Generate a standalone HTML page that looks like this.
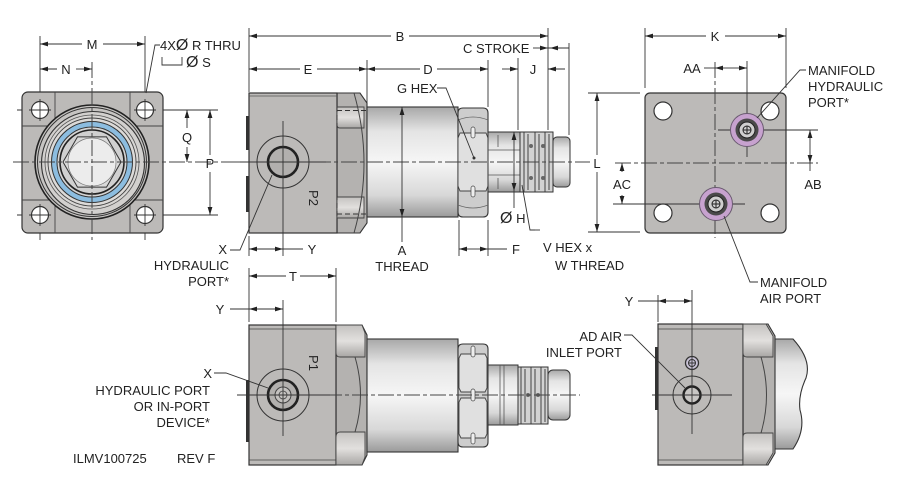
<!DOCTYPE html>
<html><head><meta charset="utf-8"><style>
body{margin:0;background:#fff}
svg{display:block}
text{font-family:"Liberation Sans","DejaVu Sans",sans-serif;font-size:13px;fill:#222}
</style></head><body>
<svg width="900" height="486" viewBox="0 0 900 486" xmlns="http://www.w3.org/2000/svg">
<defs>
<marker id="ar" markerUnits="userSpaceOnUse" markerWidth="8" markerHeight="6" viewBox="0 0 8 6" refX="8" refY="3" orient="auto"><path d="M0,0.6L8,3L0,5.4z" fill="#222"/></marker>
<linearGradient id="bar" x1="0" y1="0" x2="0" y2="1"><stop offset="0" stop-color="#a8a8a8"/><stop offset=".22" stop-color="#e4e4e4"/><stop offset=".5" stop-color="#f6f6f6"/><stop offset=".8" stop-color="#d8d8d8"/><stop offset="1" stop-color="#9a9a9a"/></linearGradient>
<linearGradient id="pk" x1="0" y1="0" x2="0" y2="1"><stop offset="0" stop-color="#c4c2c0"/><stop offset=".5" stop-color="#e2e0de"/><stop offset="1" stop-color="#a8a6a4"/></linearGradient>
</defs>

<!-- ============ TOP-LEFT END VIEW ============ -->
<g stroke="#333" stroke-width="0.9" fill="none">
<line x1="40" y1="36" x2="40" y2="240"/><line x1="145" y1="36" x2="145" y2="240"/>
<line x1="17" y1="110" x2="218" y2="110"/><line x1="17" y1="215" x2="218" y2="215"/>
</g>
<rect x="22" y="92" width="141" height="141" rx="6" fill="#bcbab8" stroke="#333" stroke-width="1.2"/>
<g stroke="#444" stroke-width="0.9">
<line x1="55" y1="92" x2="55" y2="233"/><line x1="130" y1="92" x2="130" y2="233"/>
<line x1="22" y1="126" x2="163" y2="126"/><line x1="22" y1="200" x2="163" y2="200"/>
</g>
<g fill="#fff" stroke="#333" stroke-width="1.2">
<circle cx="40" cy="110" r="8.5"/><circle cx="145" cy="110" r="8.5"/><circle cx="40" cy="215" r="8.5"/><circle cx="145" cy="215" r="8.5"/>
</g>
<g stroke="#333" stroke-width="0.9">
<line x1="29" y1="110" x2="51" y2="110"/><line x1="40" y1="99" x2="40" y2="121"/>
<line x1="134" y1="110" x2="156" y2="110"/><line x1="145" y1="99" x2="145" y2="121"/>
<line x1="29" y1="215" x2="51" y2="215"/><line x1="40" y1="204" x2="40" y2="226"/>
<line x1="134" y1="215" x2="156" y2="215"/><line x1="145" y1="204" x2="145" y2="226"/>
</g>
<g transform="translate(92,162)">
<circle r="57" fill="#c6c4c2" stroke="#222" stroke-width="1.6"/>
<circle r="54.5" fill="none" stroke="#333" stroke-width="1"/>
<circle cx="1" cy="1" r="51.5" fill="#d2d0ce" stroke="#333" stroke-width="1.1"/>
<circle r="47" fill="#d8d6d4" stroke="#555" stroke-width="0.8"/>
<circle r="44" fill="#dcdad8" stroke="#444" stroke-width="0.9"/>
<circle r="40.5" fill="#8cbde0" stroke="#333" stroke-width="1"/>
<circle r="35" fill="#d4d4d4" stroke="#333" stroke-width="1"/>
<circle r="32" fill="#d0d0d0" stroke="#222" stroke-width="1.6"/>
<polygon points="29,0 14.5,25.1 -14.5,25.1 -29,0 -14.5,-25.1 14.5,-25.1" fill="#dadada" stroke="#333" stroke-width="1"/>
<circle r="24" fill="#ececec" stroke="#777" stroke-width="0.7"/>
</g>
<g stroke="#444" stroke-width="1" stroke-dasharray="16 3 4 3" fill="none">
<line x1="13" y1="162" x2="250" y2="162"/><line x1="92" y1="62" x2="92" y2="240"/>
</g>
<!-- dims -->
<g stroke="#333" stroke-width="0.9" fill="none">
<line x1="82" y1="44" x2="40" y2="44" marker-end="url(#ar)"/><line x1="103" y1="44" x2="145" y2="44" marker-end="url(#ar)"/>
<line x1="57" y1="69" x2="40" y2="69" marker-end="url(#ar)"/><line x1="76" y1="69" x2="92" y2="69" marker-end="url(#ar)"/>
<polyline points="160,45 155,45 146,93"/>
<polyline points="162,57 162,65 182,65 182,57"/>
<line x1="187" y1="128" x2="187" y2="110" marker-end="url(#ar)"/><line x1="187" y1="147" x2="187" y2="162" marker-end="url(#ar)"/>
<line x1="210" y1="155" x2="210" y2="110" marker-end="url(#ar)"/><line x1="210" y1="172" x2="210" y2="215" marker-end="url(#ar)"/>
</g>
<text x="92" y="49" text-anchor="middle">M</text>
<text x="66" y="74" text-anchor="middle">N</text>
<text x="160" y="50">4X<tspan font-size="16">Ø</tspan> R THRU</text>
<text x="186" y="67"><tspan font-size="16">Ø</tspan> S</text>
<text x="187" y="142" text-anchor="middle">Q</text>
<text x="210" y="168" text-anchor="middle">P</text>

<!-- ============ TOP MIDDLE SIDE VIEW ============ -->
<g stroke="#333" stroke-width="0.9" fill="none">
<line x1="249" y1="28" x2="249" y2="92"/>
<line x1="367" y1="60" x2="367" y2="105"/>
<line x1="488" y1="60" x2="488" y2="107"/>
<line x1="518" y1="58" x2="518" y2="130"/>
<line x1="548" y1="28" x2="548" y2="130"/>
<line x1="569" y1="43" x2="569" y2="135"/>
<line x1="459" y1="220" x2="459" y2="256"/>
<line x1="488" y1="220" x2="488" y2="256"/>
<line x1="249" y1="236" x2="249" y2="256"/>
<line x1="249" y1="268" x2="249" y2="322"/>
<line x1="336" y1="268" x2="336" y2="322"/>
</g>
<!-- block -->
<rect x="246" y="116" width="3.5" height="34" fill="#333"/>
<rect x="246" y="176" width="3.5" height="36" fill="#333"/>
<path d="M337,93 L360,93 L367,103 L367,223 L360,233 L337,233Z" fill="#b4b2b0" stroke="#333" stroke-width="1.1"/>
<rect x="249" y="93" width="88" height="140" fill="#bcbab8" stroke="#333" stroke-width="1.2"/>
<line x1="249" y1="96" x2="337" y2="96" stroke="#555" stroke-width="0.7"/>
<path d="M337,107 L364,107 L364,128 L340,128 Q337,128 337,125Z" fill="url(#pk)" stroke="#444" stroke-width="0.9"/>
<path d="M337,197 L364,197 L364,218 L337,218Z" fill="url(#pk)" stroke="#444" stroke-width="0.9"/>
<path d="M354,93 Q374,163 354,233" fill="none" stroke="#444" stroke-width="1"/>
<g stroke="#333" stroke-width="1" stroke-dasharray="5 3" fill="none">
<line x1="337" y1="107" x2="337" y2="218"/>
<line x1="337" y1="110.5" x2="458" y2="110.5"/>
<line x1="337" y1="214" x2="458" y2="214"/>
</g>
<!-- port P2 -->
<circle cx="283" cy="162" r="26" fill="none" stroke="#333" stroke-width="1"/>
<circle cx="283" cy="162" r="15" fill="#b2b0ae" stroke="#222" stroke-width="2.6"/>
<text transform="translate(315,198) rotate(90)" text-anchor="middle" dy="6" font-size="18" fill="#333">P2</text>
<!-- barrel -->
<rect x="367" y="107" width="91" height="110" fill="url(#bar)" stroke="#333" stroke-width="1.1"/>
<line x1="458" y1="108" x2="458" y2="217" stroke="#333" stroke-dasharray="5 3"/>
<!-- nut -->
<path d="M458,113 Q458,108 463,108 L483,108 Q488,108 488,113 L488,212 Q488,217 483,217 L463,217 Q458,217 458,212Z" fill="#cdcdcd" stroke="#333" stroke-width="1.1"/>
<path d="M458,120 Q473,114 488,120" fill="none" stroke="#666" stroke-width="0.7"/>
<path d="M458,205 Q473,211 488,205" fill="none" stroke="#666" stroke-width="0.7"/>
<path d="M460,133 L486,133 L488,138 L488,186 L486,191 L460,191 L458,186 L458,138Z" fill="#e0e0e0" stroke="#444" stroke-width="0.9"/>
<g fill="#eee" stroke="#444" stroke-width="0.7">
<rect x="471" y="127" width="4" height="11" rx="2"/><rect x="471" y="186" width="4" height="11" rx="2"/>
</g>
<!-- plunger -->
<rect x="488" y="132" width="32" height="60" fill="url(#bar)" stroke="#333" stroke-width="1"/>
<g stroke="#555" stroke-width="0.8">
<line x1="488" y1="150" x2="520" y2="150"/><line x1="488" y1="175" x2="520" y2="175"/>
<line x1="498" y1="135" x2="498" y2="147"/><line x1="498" y1="178" x2="498" y2="189"/>
</g>
<rect x="520" y="132" width="33" height="60" fill="#d2d2d2" stroke="#333" stroke-width="1"/>
<g stroke="#333" stroke-width="0.9">
<line x1="524" y1="132" x2="524" y2="192"/><line x1="528" y1="134" x2="528" y2="190"/>
<line x1="535" y1="132" x2="535" y2="192"/><line x1="539" y1="134" x2="539" y2="190"/>
<line x1="545" y1="132" x2="545" y2="192"/><line x1="549" y1="134" x2="549" y2="190"/>
</g>
<g fill="#666"><circle cx="531" cy="146" r="2"/><circle cx="531" cy="178" r="2"/><circle cx="543" cy="146" r="2"/><circle cx="543" cy="178" r="2"/></g>
<rect x="553" y="137" width="17" height="50" rx="4" fill="url(#bar)" stroke="#333" stroke-width="1"/>
<!-- centerlines -->
<g stroke="#444" stroke-width="1" stroke-dasharray="16 3 4 3" fill="none">
<line x1="237" y1="162" x2="590" y2="162"/>
</g>
<g stroke="#333" stroke-width="0.9" fill="none">
<line x1="283" y1="121" x2="283" y2="256"/>
<line x1="240" y1="162" x2="326" y2="162"/>
</g>
<circle cx="474" cy="158" r="1.5" fill="#333"/>
<!-- dims -->
<g stroke="#333" stroke-width="0.9" fill="none">
<line x1="391" y1="36" x2="249" y2="36" marker-end="url(#ar)"/><line x1="409" y1="36" x2="548" y2="36" marker-end="url(#ar)"/>
<line x1="533" y1="48" x2="548" y2="48" marker-end="url(#ar)"/><line x1="548" y1="48" x2="569" y2="48"/><line x1="562" y1="48" x2="550" y2="48" marker-end="url(#ar)"/>
<line x1="300" y1="69" x2="249" y2="69" marker-end="url(#ar)"/><line x1="317" y1="69" x2="367" y2="69" marker-end="url(#ar)"/>
<line x1="420" y1="69" x2="367" y2="69" marker-end="url(#ar)"/><line x1="437" y1="69" x2="488" y2="69" marker-end="url(#ar)"/>
<line x1="502" y1="69" x2="518" y2="69" marker-end="url(#ar)"/><line x1="565" y1="69" x2="548" y2="69" marker-end="url(#ar)"/>
<polyline points="437,88 446,88 474,158"/>
<line x1="402" y1="160" x2="402" y2="107" marker-end="url(#ar)"/><line x1="402" y1="160" x2="402" y2="217" marker-end="url(#ar)"/><line x1="402" y1="217" x2="402" y2="242"/>
<line x1="514" y1="160" x2="514" y2="132" marker-end="url(#ar)"/><line x1="514" y1="160" x2="514" y2="191" marker-end="url(#ar)"/><line x1="514" y1="191" x2="514" y2="208"/>
<line x1="474" y1="249" x2="459" y2="249" marker-end="url(#ar)"/><line x1="474" y1="249" x2="488" y2="249" marker-end="url(#ar)"/><line x1="488" y1="249" x2="507" y2="249"/>
<line x1="266" y1="249" x2="249" y2="249" marker-end="url(#ar)"/><line x1="266" y1="249" x2="283" y2="249" marker-end="url(#ar)"/><line x1="283" y1="249" x2="303" y2="249"/>
<line x1="286" y1="276" x2="249" y2="276" marker-end="url(#ar)"/><line x1="300" y1="276" x2="336" y2="276" marker-end="url(#ar)"/>
<polyline points="230,250 240,250 272,175"/>
<polyline points="535,230 530,230 522,185"/>
<line x1="535" y1="230" x2="540" y2="230"/>
</g>
<text x="400" y="41" text-anchor="middle">B</text>
<text x="463" y="53">C STROKE</text>
<text x="308" y="74" text-anchor="middle">E</text>
<text x="428" y="74" text-anchor="middle">D</text>
<text x="533" y="74" text-anchor="middle">J</text>
<text x="397" y="93">G HEX</text>
<text x="402" y="255" text-anchor="middle">A</text>
<text x="402" y="271" text-anchor="middle">THREAD</text>
<text x="500" y="223"><tspan font-size="16">Ø</tspan> H</text>
<text x="516" y="254" text-anchor="middle">F</text>
<text x="312" y="254" text-anchor="middle">Y</text>
<text x="293" y="281" text-anchor="middle">T</text>
<text x="227" y="254" text-anchor="end">X</text>
<text x="229" y="270" text-anchor="end">HYDRAULIC</text>
<text x="229" y="286" text-anchor="end">PORT*</text>
<text x="543" y="252">V HEX x</text>
<text x="555" y="270">W THREAD</text>

<!-- ============ RIGHT TOP MANIFOLD VIEW ============ -->
<g stroke="#333" stroke-width="0.9" fill="none">
<line x1="645" y1="28" x2="645" y2="88"/><line x1="786" y1="28" x2="786" y2="88"/>
<line x1="588" y1="93" x2="640" y2="93"/><line x1="588" y1="232" x2="640" y2="232"/>
</g>
<rect x="645" y="93" width="141" height="140" rx="5" fill="#bcbab8" stroke="#333" stroke-width="1.2"/>
<g fill="#fff" stroke="#333" stroke-width="1.2">
<circle cx="663" cy="111" r="9"/><circle cx="770" cy="111" r="9"/><circle cx="663" cy="213" r="9"/><circle cx="770" cy="213" r="9"/>
</g>
<g stroke="#444" stroke-width="1" stroke-dasharray="16 3 4 3" fill="none">
<line x1="715" y1="62" x2="715" y2="238"/><line x1="615" y1="163" x2="818" y2="163"/>
</g>
<g stroke="#333" stroke-width="0.9" fill="none">
<line x1="747" y1="61" x2="747" y2="157"/>
<line x1="718" y1="130" x2="818" y2="130"/>
<line x1="613" y1="204" x2="745" y2="204"/>
</g>
<g transform="translate(747,130)">
<circle r="16.5" fill="#c7a2cf" stroke="#6a5a70" stroke-width="1"/>
<circle r="11.5" fill="#4a4a4a"/>
<circle r="8" fill="#cfcfcf" stroke="#222" stroke-width="1"/>
<circle r="4" fill="none" stroke="#222" stroke-width="1"/>
<line x1="-4" y1="0" x2="4" y2="0" stroke="#222"/><line x1="0" y1="-4" x2="0" y2="4" stroke="#222"/>
</g>
<g transform="translate(716,204)">
<circle r="16.5" fill="#c7a2cf" stroke="#6a5a70" stroke-width="1"/>
<circle r="11.5" fill="#4a4a4a"/>
<circle r="8" fill="#cfcfcf" stroke="#222" stroke-width="1"/>
<circle r="4" fill="none" stroke="#222" stroke-width="1"/>
<line x1="-4" y1="0" x2="4" y2="0" stroke="#222"/><line x1="0" y1="-4" x2="0" y2="4" stroke="#222"/>
</g>
<g stroke="#333" stroke-width="0.9" fill="none">
<line x1="706" y1="36" x2="645" y2="36" marker-end="url(#ar)"/><line x1="725" y1="36" x2="786" y2="36" marker-end="url(#ar)"/>
<line x1="704" y1="68" x2="715" y2="68"/><line x1="731" y1="68" x2="715" y2="68" marker-end="url(#ar)"/><line x1="731" y1="68" x2="747" y2="68" marker-end="url(#ar)"/>
<line x1="810" y1="147" x2="810" y2="130" marker-end="url(#ar)"/><line x1="810" y1="147" x2="810" y2="163" marker-end="url(#ar)"/><line x1="810" y1="163" x2="810" y2="171"/>
<line x1="622" y1="172" x2="622" y2="163" marker-end="url(#ar)"/><line x1="622" y1="195" x2="622" y2="204" marker-end="url(#ar)"/>
<line x1="597" y1="155" x2="597" y2="93" marker-end="url(#ar)"/><line x1="597" y1="172" x2="597" y2="232" marker-end="url(#ar)"/>
<polyline points="806,70 800,70 757,118"/>
<polyline points="758,282 750,282 724,216"/>
</g>
<text x="715" y="41" text-anchor="middle">K</text>
<text x="692" y="73" text-anchor="middle">AA</text>
<text x="813" y="189" text-anchor="middle">AB</text>
<text x="622" y="189" text-anchor="middle">AC</text>
<text x="597" y="168" text-anchor="middle">L</text>
<text x="808" y="75">MANIFOLD</text>
<text x="808" y="91">HYDRAULIC</text>
<text x="808" y="107">PORT*</text>
<text x="760" y="287">MANIFOLD</text>
<text x="760" y="303">AIR PORT</text>

<!-- ============ BOTTOM MIDDLE VIEW ============ -->
<rect x="246" y="380" width="3.5" height="62" fill="#333"/>
<path d="M336,325 L362,325 L367,335 L367,455 L362,465 L336,465Z" fill="#b4b2b0" stroke="#333" stroke-width="1.1"/>
<rect x="249" y="325" width="87" height="140" fill="#bcbab8" stroke="#333" stroke-width="1.2"/>
<line x1="249" y1="329" x2="336" y2="329" stroke="#444" stroke-width="0.8"/>
<line x1="249" y1="460" x2="336" y2="460" stroke="#444" stroke-width="0.8"/>
<path d="M336,325 L362,325 L365,333 L365,357 L340,357 Q336,357 336,353Z" fill="url(#pk)" stroke="#444" stroke-width="0.9"/>
<path d="M336,437 Q336,432 340,432 L365,432 L365,457 L362,465 L336,465Z" fill="url(#pk)" stroke="#444" stroke-width="0.9"/>
<path d="M355,357 Q366,395 355,432" fill="none" stroke="#444" stroke-width="1"/>
<circle cx="283" cy="395" r="26" fill="none" stroke="#333" stroke-width="1"/>
<circle cx="283" cy="395" r="15" fill="#b2b0ae" stroke="#222" stroke-width="2.6"/>
<circle cx="283" cy="395" r="8" fill="#c4c2c0" stroke="#444" stroke-width="1"/>
<circle cx="283" cy="395" r="4" fill="none" stroke="#444" stroke-width="0.8"/>
<text transform="translate(315,363) rotate(90)" text-anchor="middle" dy="6" font-size="18" fill="#333">P1</text>
<rect x="367" y="339" width="91" height="113" fill="url(#bar)" stroke="#333" stroke-width="1.1"/>
<path d="M458,349 Q458,344 463,344 L483,344 Q488,344 488,349 L488,442 Q488,447 483,447 L463,447 Q458,447 458,442Z" fill="#cdcdcd" stroke="#333" stroke-width="1.1"/>
<path d="M461,354 L485,354 L487,358 L487,388 L485,392 L461,392 L459,388 L459,358Z" fill="#e0e0e0" stroke="#444" stroke-width="0.9"/>
<path d="M461,398 L485,398 L487,402 L487,434 L485,438 L461,438 L459,434 L459,402Z" fill="#e0e0e0" stroke="#444" stroke-width="0.9"/>
<g fill="#eee" stroke="#444" stroke-width="0.7">
<rect x="471" y="346" width="4" height="11" rx="2"/><rect x="471" y="389" width="4" height="12" rx="2"/><rect x="471" y="433" width="4" height="11" rx="2"/>
</g>
<rect x="488" y="365" width="30" height="60" fill="url(#bar)" stroke="#333" stroke-width="1"/>
<line x1="500" y1="365" x2="500" y2="425" stroke="#555" stroke-width="0.8"/>
<line x1="504" y1="365" x2="504" y2="425" stroke="#555" stroke-width="0.8"/>
<rect x="518" y="367" width="30" height="57" fill="#d2d2d2" stroke="#333" stroke-width="1"/>
<g stroke="#333" stroke-width="0.9">
<line x1="521" y1="367" x2="521" y2="424"/><line x1="525" y1="369" x2="525" y2="422"/>
<line x1="531" y1="367" x2="531" y2="424"/><line x1="535" y1="369" x2="535" y2="422"/>
<line x1="541" y1="367" x2="541" y2="424"/><line x1="545" y1="369" x2="545" y2="422"/>
</g>
<g fill="#666"><circle cx="528" cy="395" r="2"/><circle cx="538" cy="395" r="2"/></g>
<rect x="548" y="370" width="22" height="50" rx="5" fill="url(#bar)" stroke="#333" stroke-width="1"/>
<g stroke="#444" stroke-width="1" stroke-dasharray="16 3 4 3" fill="none">
<line x1="300" y1="395" x2="580" y2="395"/>
</g>
<g stroke="#333" stroke-width="0.9" fill="none">
<line x1="283" y1="300" x2="283" y2="436"/>
<line x1="237" y1="395" x2="330" y2="395"/>
<line x1="230" y1="309" x2="249" y2="309"/>
<line x1="266" y1="309" x2="249" y2="309" marker-end="url(#ar)"/><line x1="266" y1="309" x2="283" y2="309" marker-end="url(#ar)"/>
<polyline points="214,373 226,373 268,388"/>
</g>
<text x="220" y="314" text-anchor="middle">Y</text>
<text x="212" y="378" text-anchor="end">X</text>
<text x="210" y="395" text-anchor="end">HYDRAULIC PORT</text>
<text x="210" y="411" text-anchor="end">OR IN-PORT</text>
<text x="210" y="427" text-anchor="end">DEVICE*</text>
<text x="73" y="463">ILMV100725</text>
<text x="177" y="463">REV F</text>

<!-- ============ BOTTOM RIGHT VIEW ============ -->
<path d="M774,339 L793,339 Q812,360 806,378 Q798,395 800,410 Q806,430 793,449 L774,449Z" fill="url(#bar)" stroke="#333" stroke-width="1.1"/>
<rect x="655" y="347" width="3.5" height="63" fill="#333"/>
<path d="M743,324 L768,324 L775,336 L775,453 L768,465 L743,465Z" fill="#b4b2b0" stroke="#333" stroke-width="1.1"/>
<rect x="658" y="324" width="85" height="141" fill="#bcbab8" stroke="#333" stroke-width="1.2"/>
<line x1="658" y1="329" x2="743" y2="329" stroke="#444" stroke-width="0.8"/>
<line x1="658" y1="460" x2="743" y2="460" stroke="#444" stroke-width="0.8"/>
<path d="M743,324 L766,324 L773,336 L773,357 L747,357 Q743,357 743,353Z" fill="url(#pk)" stroke="#444" stroke-width="0.9"/>
<path d="M743,437 Q743,433 747,433 L773,433 L773,453 L766,465 L743,465Z" fill="url(#pk)" stroke="#444" stroke-width="0.9"/>
<path d="M761,357 Q772,395 761,433" fill="none" stroke="#444" stroke-width="1"/>
<circle cx="692" cy="363" r="6.5" fill="#c9c3d6" stroke="#333" stroke-width="1.3"/>
<circle cx="692" cy="363" r="3.5" fill="none" stroke="#333" stroke-width="1"/>
<line x1="688" y1="363" x2="696" y2="363" stroke="#333"/>
<circle cx="692" cy="395" r="19" fill="none" stroke="#333" stroke-width="1"/>
<circle cx="692" cy="395" r="8.5" fill="#c8c6c4" stroke="#222" stroke-width="2.4"/>
<g stroke="#333" stroke-width="0.9" fill="none">
<line x1="692" y1="290" x2="692" y2="434"/>
<line x1="652" y1="395" x2="732" y2="395"/>
<line x1="658" y1="295" x2="658" y2="322"/>
<line x1="638" y1="301" x2="658" y2="301"/>
<line x1="675" y1="301" x2="658" y2="301" marker-end="url(#ar)"/><line x1="675" y1="301" x2="692" y2="301" marker-end="url(#ar)"/>
<polyline points="624,335 632,335 685,388"/>
</g>
<text x="629" y="306" text-anchor="middle">Y</text>
<text x="622" y="341" text-anchor="end">AD AIR</text>
<text x="622" y="357" text-anchor="end">INLET PORT</text>
</svg>
</body></html>
